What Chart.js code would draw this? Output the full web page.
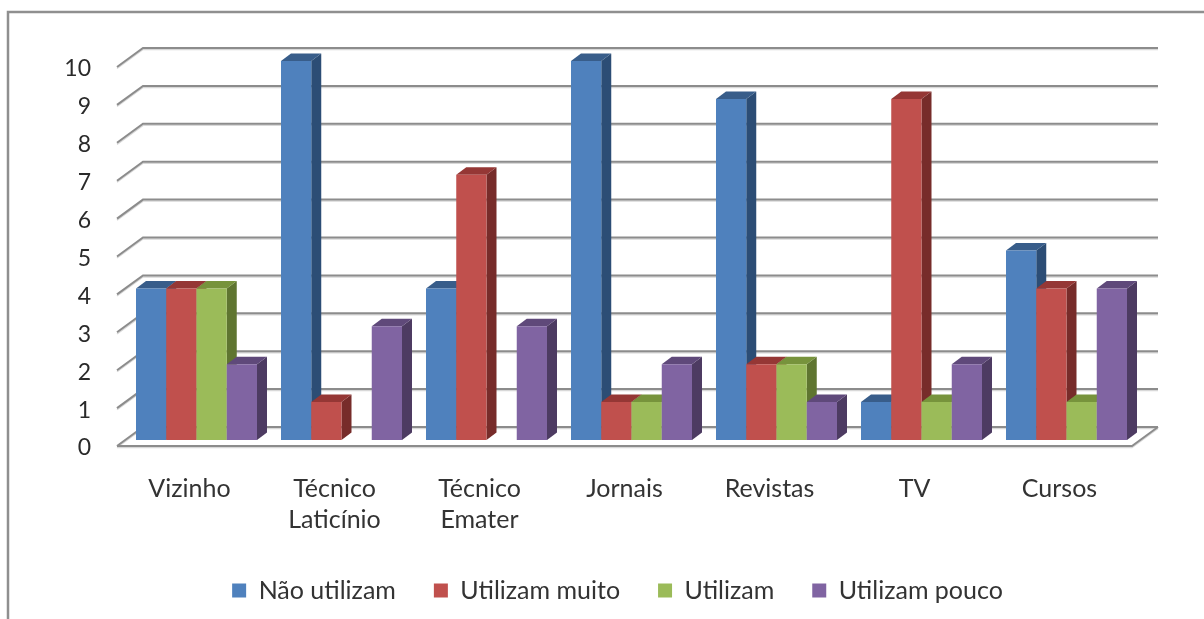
<!DOCTYPE html>
<html><head><meta charset="utf-8">
<style>html,body{margin:0;padding:0;background:#fff}#w{width:1204px;height:619px;position:relative}</style>
<script src="https://cdn.jsdelivr.net/npm/chart.js@4/dist/chart.umd.min.js"></script>
</head><body><div id="w"><canvas id="c" width="1204" height="619"></canvas></div>
<script>
const categories = [["Vizinho"],["Técnico","Laticínio"],["Técnico","Emater"],["Jornais"],["Revistas"],["TV"],["Cursos"]];
const naoUtilizam   = [4,10,4,10,9,1,5];
const utilizamMuito = [4,1,7,1,2,9,4];
const utilizam      = [4,0,0,1,2,1,1];
const utilizamPouco = [2,3,3,2,1,2,4];
const seriesNames = ["Não utilizam","Utilizam muito","Utilizam","Utilizam pouco"];
const frontColors = ["#4F81BD","#C0504D","#9BBB59","#8064A2"];
const sideColors  = ["#2C4D75","#772C2A","#5F7530","#4D3B62"];
const topColors   = ["#385D8A","#953735","#77933C","#5F497A"];
const DX=10, DY=7.5;
const FONT="Lato";

const scene = {
  id:'scene',
  beforeInit(chart){ chart.ctx.letterSpacing='2px'; chart.ctx.wordSpacing='-3px'; },
  afterLayout(chart){ chart.legend.left=96; chart.legend.right=1139; },
  beforeDraw(chart){
    const c=chart.ctx; c.save();
    c.fillStyle='#fff'; c.fillRect(0,0,chart.width,chart.height);
    c.strokeStyle='#8f8f8f'; c.lineWidth=2.5;
    c.beginPath(); c.moveTo(8,chart.height); c.lineTo(8,12); c.lineTo(chart.width,12); c.stroke();
    c.restore();
  },
  beforeDatasetsDraw(chart){
    const c=chart.ctx, a=chart.chartArea, y=chart.scales.y;
    c.save();
    const line=(pts,col,w)=>{c.strokeStyle=col;c.lineWidth=w;c.beginPath();pts.forEach((p,i)=>i?c.lineTo(p[0],p[1]):c.moveTo(p[0],p[1]));c.stroke();};
    const draw=(off,col,w)=>{
      y.ticks.forEach(t=>{
        const p=y.getPixelForValue(t.value);
        line([[a.left-7,p+6+off],[a.left+19,p-13+off],[a.right+19,p-13+off]],col,w);
      });
      const p0=y.getPixelForValue(0);
      line([[a.left-7,p0+6+off],[a.right-7,p0+6+off],[a.right+19,p0-13+off]],col,w);
    };
    draw(1.5,'#d8d8d8',1.5);
    draw(0,'#8c8c8c',2);
    c.restore();
    const n=chart.data.labels.length;
    for(let i=0;i<n;i++){
      chart.data.datasets.forEach((ds,di)=>{
        if(!ds.data[i]) return;
        const b=chart.getDatasetMeta(di).data[i];
        const l=b.x-b.width/2, r=b.x+b.width/2, t=b.y, bt=b.base;
        c.save();
        c.fillStyle=sideColors[di];
        c.beginPath();c.moveTo(r,t);c.lineTo(r+DX,t-DY);c.lineTo(r+DX,bt-DY);c.lineTo(r,bt);c.closePath();c.fill();
        c.fillStyle=topColors[di];
        c.beginPath();c.moveTo(l,t);c.lineTo(l+DX,t-DY);c.lineTo(r+DX,t-DY);c.lineTo(r,t);c.closePath();c.fill();
        c.restore();
        b.draw(c);
      });
    }
    return false;
  }
};

new Chart(document.getElementById('c'),{
  type:'bar',
  data:{labels:categories,datasets:[naoUtilizam,utilizamMuito,utilizam,utilizamPouco].map((d,i)=>({
    label:seriesNames[i],data:d,backgroundColor:frontColors[i],borderWidth:0,
    categoryPercentage:0.8345,barPercentage:1}))},
  plugins:[scene],
  options:{
    responsive:false,animation:false,
    layout:{padding:{left:0,right:65,top:61,bottom:6}},
    plugins:{
      tooltip:{enabled:false},
      legend:{position:'bottom',labels:{boxWidth:14,boxHeight:14,padding:38,color:'#333',font:{family:FONT,size:25}}}
    },
    scales:{
      x:{grid:{display:false,drawTicks:false},border:{display:false},
        afterFit(s){s.height=100;},
        ticks:{labelOffset:-7,padding:33,color:'#333',maxRotation:0,autoSkip:false,font:{family:FONT,size:25,lineHeight:1.24}}},
      y:{min:0,max:10,grid:{display:false,drawTicks:false},border:{display:false},
        afterFit(s){s.width=124;},
        ticks:{stepSize:1,labelOffset:8,padding:33,color:'#2a2a2a',font:{family:FONT,size:23}}}
    }
  }
});
</script></body></html>
